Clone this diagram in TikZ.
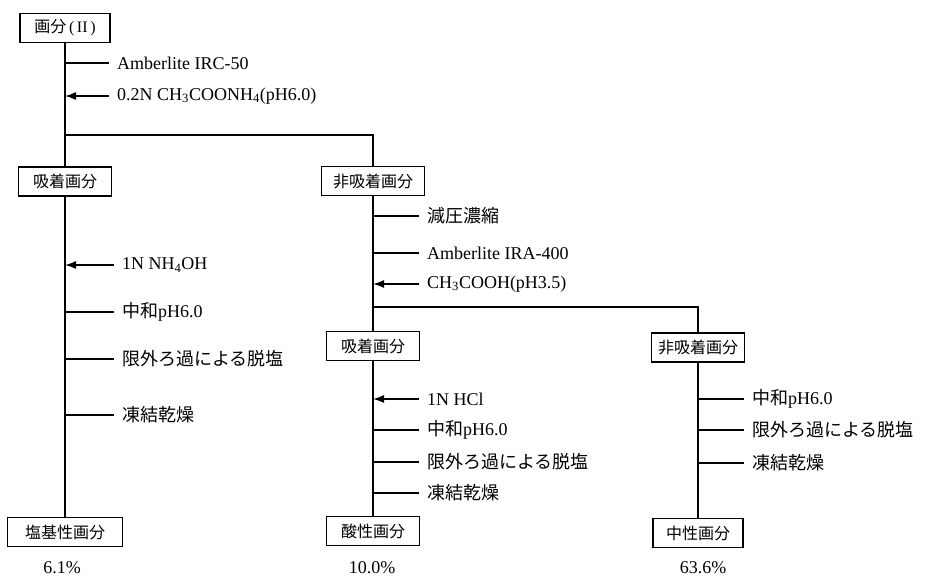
\documentclass[tikz,border=0pt]{standalone}
\usepackage{fontspec}
\setmainfont{Liberation Serif}
\newfontfamily\cjk{Noto Sans CJK JP}
\usetikzlibrary{arrows.meta}
\begin{document}
\begin{tikzpicture}[x=1pt,y=-1pt,
  box/.style={draw,line width=1.3pt,minimum height=29pt,inner sep=0pt,font=\fontsize{16}{18}\cjk},
  lab/.style={anchor=west,inner sep=0pt,font=\fontsize{18}{20}\selectfont},
  pct/.style={inner sep=0pt,font=\fontsize{18}{20}\selectfont},
  trunk/.style={line width=1.6pt},
  tick/.style={line width=1.3pt,shorten <=8pt},
  feed/.style={line width=1.6pt,shorten <=8pt,-{Latex[length=11pt,width=8pt]}}]
\useasboundingbox (0,0) rectangle (926,579);

% boxes
\node[box,minimum width=90pt]  (top)     at (65,28)    {画分\,{\rmfamily(\,II\,)}};
\node[box,minimum width=93pt]  (adsL)    at (65,181.5) {吸着画分};
\node[box,minimum width=103pt] (nadsR)   at (373,181)  {非吸着画分};
\node[box,minimum width=93pt]  (adsM)    at (373,346)  {吸着画分};
\node[box,minimum width=93pt]  (nadsN)   at (698,347.5){非吸着画分};
\node[box,minimum width=115pt] (basic)   at (65,532)   {塩基性画分};
\node[box,minimum width=93pt]  (acid)    at (373,531)  {酸性画分};
\node[box,minimum width=90pt]  (neutral) at (698,533)  {中性画分};

% trunks
\coordinate (j1) at (65,135);
\coordinate (j2) at (373,307);
\draw[trunk] (top) -- (adsL);
\draw[trunk] (j1) -| (nadsR.north);
\draw[trunk] (adsL) -- (basic);
\draw[trunk] (nadsR) -- (adsM);
\draw[trunk] (j2) -| (nadsN.north);
\draw[trunk] (adsM) -- (acid);
\draw[trunk] (nadsN) -- (neutral);

% labels on the first trunk
\node[lab] (t1) at (117,63) {Amberlite IRC-50};
\draw[tick] (t1.west) -- (t1.west -| top.south);
\node[lab] (t2) at (117,96) {0.2N CH\textsubscript{3}COONH\textsubscript{4}(pH6.0)};
\draw[feed] (t2.west) -- (t2.west -| top.south);

% left branch
\node[lab] (a1) at (122,265) {1N NH\textsubscript{4}OH};
\draw[feed] (a1.west) -- (a1.west -| adsL.south);
\node[lab] (a2) at (122,312) {{\cjk 中和}pH6.0};
\draw[tick] (a2.west) -- (a2.west -| adsL.south);
\node[lab] (a3) at (122,359) {\cjk 限外ろ過による脱塩};
\draw[tick] (a3.west) -- (a3.west -| adsL.south);
\node[lab] (a4) at (122,415) {\cjk 凍結乾燥};
\draw[tick] (a4.west) -- (a4.west -| adsL.south);

% non-adsorbed branch
\node[lab] (r1) at (427,216) {\cjk 減圧濃縮};
\draw[tick] (r1.west) -- (r1.west -| nadsR.south);
\node[lab] (r2) at (427,253) {Amberlite IRA-400};
\draw[tick] (r2.west) -- (r2.west -| nadsR.south);
\node[lab] (r3) at (427,284) {CH\textsubscript{3}COOH(pH3.5)};
\draw[feed] (r3.west) -- (r3.west -| nadsR.south);

% acidic branch
\node[lab] (m1) at (427,399) {1N HCl};
\draw[feed] (m1.west) -- (m1.west -| adsM.south);
\node[lab] (m2) at (427,430) {{\cjk 中和}pH6.0};
\draw[tick] (m2.west) -- (m2.west -| adsM.south);
\node[lab] (m3) at (427,462) {\cjk 限外ろ過による脱塩};
\draw[tick] (m3.west) -- (m3.west -| adsM.south);
\node[lab] (m4) at (427,493) {\cjk 凍結乾燥};
\draw[tick] (m4.west) -- (m4.west -| adsM.south);

% neutral branch
\node[lab] (n1) at (752,399) {{\cjk 中和}pH6.0};
\draw[tick] (n1.west) -- (n1.west -| nadsN.south);
\node[lab] (n2) at (752,430) {\cjk 限外ろ過による脱塩};
\draw[tick] (n2.west) -- (n2.west -| nadsN.south);
\node[lab] (n3) at (752,463) {\cjk 凍結乾燥};
\draw[tick] (n3.west) -- (n3.west -| nadsN.south);

% yields
\node[pct] (p1) at (62,568)  {6.1\%};
\node[pct] (p2) at (372,568) {10.0\%};
\node[pct] (p3) at (703,568) {63.6\%};
\end{tikzpicture}
\end{document}
